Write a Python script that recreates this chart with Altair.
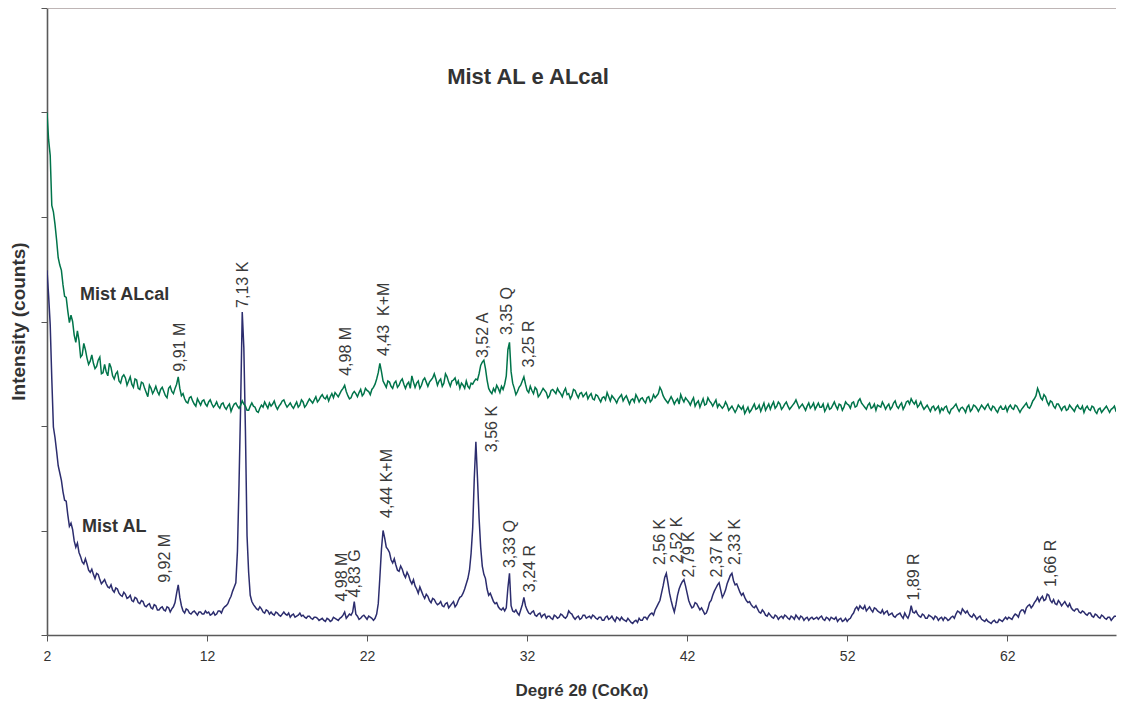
import altair as alt
import pandas as pd

# ---------------- data ----------------
# Each series is sampled every 0.1 deg 2theta: "even" samples at 2.0, 2.2, ... 69.0
# and "odd" samples at 2.1, 2.3, ... 68.9.  One row = 2 degrees.

mist_al_even = (
    [349, 297, 199, 176, 155, 137, 128, 104, 101, 84]      # 2.0 - 3.8
    + [79, 70, 73, 62, 63, 54, 58, 49, 53, 46]             # 4
    + [48, 41, 44, 38, 41, 35, 38, 32, 35, 30]             # 6
    + [32, 27, 30, 25, 28, 24, 27, 23, 26, 25]             # 8
    + [31, 48, 28, 21, 24, 20, 23, 19, 22, 20]             # 10
    + [21, 19, 22, 20, 23, 25, 28, 34, 42, 50]             # 12
    + [145, 309, 195, 60, 32, 27, 24, 25, 21, 23]          # 14
    + [22, 19, 21, 18, 22, 19, 17, 20, 18, 21]             # 16
    + [19, 16, 18, 15, 17, 14, 16, 13, 15, 14]             # 18
    + [16, 14, 17, 22, 18, 19, 32, 18, 16, 19]             # 20
    + [15, 17, 14, 20, 55, 100, 84, 79, 69, 67]            # 22
    + [61, 63, 55, 57, 49, 47, 40, 42, 35, 37]             # 24
    + [31, 34, 29, 32, 27, 31, 28, 32, 29, 36]             # 26
    + [40, 49, 62, 102, 185, 112, 66, 54, 38, 36]          # 28
    + [30, 27, 24, 23, 45, 28, 22, 21, 24, 36]             # 30
    + [24, 20, 23, 18, 21, 19, 16, 18, 15, 18]             # 32
    + [17, 19, 16, 23, 20, 15, 18, 16, 19, 17]             # 34
    + [16, 18, 15, 17, 14, 18, 16, 15, 17, 14]             # 36
    + [15, 13, 14, 11, 14, 16, 14, 17, 18, 21]             # 38
    + [24, 30, 40, 55, 50, 33, 22, 38, 48, 53]             # 40
    + [40, 29, 27, 30, 24, 23, 21, 31, 38, 45]             # 42
    + [50, 36, 43, 53, 59, 48, 45, 38, 36, 31]             # 44
    + [29, 26, 25, 21, 22, 18, 19, 16, 18, 17]             # 46
    + [16, 18, 15, 17, 19, 15, 17, 16, 14, 17]             # 48
    + [16, 15, 18, 14, 16, 17, 15, 13, 16, 14]             # 50
    + [13, 16, 21, 27, 28, 25, 23, 27, 22, 25]             # 52
    + [22, 24, 22, 19, 21, 17, 20, 18, 21, 16]             # 54
    + [28, 21, 20, 17, 19, 16, 18, 15, 17, 16]             # 56
    + [14, 16, 15, 18, 20, 22, 25, 21, 20, 17]             # 58
    + [18, 17, 15, 13, 13, 11, 14, 12, 14, 15]             # 60
    + [15, 16, 18, 19, 22, 24, 26, 29, 28, 33]             # 62
    + [32, 37, 34, 38, 31, 30, 33, 28, 32, 27]             # 64
    + [26, 23, 25, 21, 22, 19, 21, 17, 19, 16]             # 66
    + [18, 15, 17, 16, 18, 16]                             # 68.0 - 69.0
)
mist_al_odd = (
    [325, 245, 189, 162, 148, 129, 115, 107, 90, 88]       # 2.1 - 3.9
    + [75, 68, 68, 60, 58, 59, 53, 51, 49, 45]             # 4
    + [43, 45, 40, 37, 39, 36, 33, 36, 31, 33]             # 6
    + [28, 29, 26, 29, 24, 26, 24, 27, 22, 27]             # 8
    + [40, 36, 23, 25, 21, 22, 21, 22, 20, 23]             # 10
    + [22, 20, 19, 23, 21, 27, 30, 37, 46, 80]             # 12
    + [220, 275, 95, 38, 29, 25, 27, 22, 24, 20]           # 14
    + [20, 22, 19, 20, 20, 21, 19, 17, 19, 18]             # 16
    + [17, 18, 16, 17, 16, 15, 14, 16, 13, 17]             # 18
    + [15, 16, 19, 16, 20, 22, 20, 15, 18, 17]             # 20
    + [18, 16, 16, 30, 82, 93, 82, 72, 73, 62]             # 22
    + [66, 58, 60, 52, 53, 44, 46, 38, 39, 33]             # 24
    + [35, 31, 30, 28, 30, 26, 30, 27, 33, 37]             # 26
    + [44, 54, 78, 150, 150, 84, 58, 44, 40, 32]           # 28
    + [31, 25, 26, 26, 59, 23, 24, 19, 29, 28]             # 30
    + [21, 22, 19, 20, 17, 20, 18, 16, 19, 16]             # 32
    + [20, 17, 18, 21, 17, 17, 15, 19, 16, 18]             # 34
    + [19, 16, 17, 14, 17, 15, 18, 13, 16, 17]             # 36
    + [14, 16, 12, 13, 12, 14, 17, 15, 20, 19]             # 38
    + [27, 33, 47, 59, 40, 27, 29, 44, 51, 47]             # 40
    + [33, 26, 31, 27, 26, 20, 25, 33, 42, 48]             # 42
    + [43, 39, 49, 57, 52, 49, 41, 40, 33, 32]             # 44
    + [27, 28, 22, 24, 19, 21, 17, 19, 15, 18]             # 46
    + [19, 16, 18, 15, 17, 18, 14, 17, 16, 15]             # 48
    + [17, 17, 15, 17, 14, 16, 17, 15, 13, 16]             # 50
    + [15, 19, 25, 24, 26, 28, 25, 24, 26, 23]             # 52
    + [21, 20, 23, 20, 18, 19, 21, 16, 18, 20]             # 54
    + [22, 23, 18, 20, 16, 19, 17, 18, 14, 17]             # 56
    + [17, 14, 17, 16, 23, 20, 23, 23, 18, 20]             # 58
    + [15, 18, 14, 15, 12, 13, 12, 15, 13, 17]             # 60
    + [17, 15, 20, 17, 24, 21, 28, 26, 31, 36]             # 62
    + [35, 33, 39, 33, 34, 29, 31, 30, 29, 30]             # 64
    + [24, 25, 22, 23, 20, 21, 18, 20, 17, 19]             # 66
    + [16, 17, 14, 18, 17]                                 # 68.1 - 68.9
)

mist_alcal_even = (
    [500, 459, 405, 378, 354, 335, 323, 299, 300, 280]     # 2
    + [282, 268, 273, 259, 268, 255, 263, 250, 259, 248]   # 4
    + [256, 245, 252, 241, 249, 239, 247, 237, 244, 235]   # 6
    + [241, 232, 239, 231, 238, 230, 237, 229, 236, 233]   # 8
    + [236, 247, 229, 226, 222, 228, 221, 226, 220, 225]   # 10
    + [219, 225, 218, 223, 217, 222, 216, 221, 218, 222]   # 12
    + [217, 224, 219, 215, 222, 218, 213, 220, 223, 217]   # 14
    + [219, 224, 216, 221, 225, 218, 222, 217, 223, 220]   # 16
    + [223, 220, 226, 222, 228, 225, 230, 226, 224, 231]   # 18
    + [232, 228, 234, 239, 229, 227, 233, 228, 235, 231]   # 20
    + [234, 230, 237, 245, 260, 243, 237, 242, 236, 243]   # 22
    + [239, 245, 236, 242, 248, 237, 243, 239, 246, 238]   # 24
    + [244, 250, 239, 245, 241, 247, 238, 244, 240, 236]   # 26
    + [239, 243, 236, 240, 245, 250, 261, 255, 236, 231]   # 28
    + [233, 236, 238, 240, 273, 252, 236, 233, 239, 247]   # 30
    + [234, 238, 231, 235, 230, 236, 232, 229, 235, 231]   # 32
    + [233, 228, 236, 231, 229, 234, 227, 232, 230, 226]   # 34
    + [231, 225, 229, 223, 228, 232, 224, 227, 222, 228]   # 36
    + [224, 229, 221, 226, 230, 223, 227, 222, 228, 225]   # 38
    + [227, 231, 234, 226, 222, 228, 221, 226, 230, 223]   # 40
    + [225, 220, 227, 222, 218, 226, 221, 224, 219, 225]   # 42
    + [221, 217, 223, 215, 219, 213, 220, 216, 212, 218]   # 44
    + [215, 221, 217, 214, 222, 218, 216, 223, 219, 221]   # 46
    + [218, 223, 216, 220, 225, 217, 221, 215, 222, 219]   # 48
    + [216, 222, 218, 214, 221, 217, 223, 216, 220, 218]   # 50
    + [221, 217, 223, 219, 226, 220, 216, 222, 218, 215]   # 52
    + [219, 223, 216, 221, 218, 224, 217, 222, 219, 224]   # 54
    + [226, 221, 218, 223, 216, 220, 214, 219, 217, 213]   # 56
    + [215, 219, 212, 217, 221, 214, 218, 213, 220, 216]   # 58
    + [219, 214, 220, 216, 221, 215, 218, 213, 219, 216]   # 60
    + [214, 220, 216, 219, 213, 218, 222, 217, 224, 229]   # 62
    + [232, 225, 228, 220, 223, 217, 221, 215, 219, 216]   # 64
    + [218, 214, 220, 216, 213, 219, 215, 218, 212, 217]   # 66
    + [215, 219, 213, 217, 214, 216]                       # 68
)
mist_alcal_odd = (
    [474, 411, 393, 361, 349, 324, 310, 306, 287, 291]     # 2.1
    + [266, 279, 265, 262, 260, 257, 266, 251, 252, 260]   # 4
    + [248, 250, 243, 247, 246, 243, 240, 245, 236, 242]   # 6
    + [236, 228, 236, 234, 233, 235, 233, 227, 238, 231]   # 8
    + [240, 236, 231, 223, 227, 224, 219, 223, 224, 221]   # 10
    + [223, 221, 220, 219, 221, 218, 219, 214, 221, 219]   # 12
    + [220, 221, 215, 219, 219, 214, 217, 218, 220, 222]   # 14
    + [221, 219, 219, 224, 221, 220, 219, 220, 218, 225]   # 16
    + [218, 223, 224, 225, 223, 228, 227, 229, 228, 227]   # 18
    + [230, 231, 236, 233, 226, 231, 231, 232, 229, 236]   # 20
    + [233, 235, 240, 251, 252, 240, 243, 238, 241, 237]   # 22
    + [243, 240, 240, 236, 242, 241, 236, 244, 242, 242]   # 24
    + [246, 245, 243, 238, 250, 242, 243, 246, 243, 241]   # 26
    + [236, 238, 241, 243, 244, 258, 263, 244, 233, 236]   # 28
    + [239, 232, 235, 248, 280, 241, 230, 237, 243, 240]   # 30
    + [232, 234, 237, 228, 233, 234, 227, 234, 233, 236]   # 32
    + [231, 233, 230, 226, 235, 230, 231, 228, 232, 229]   # 34
    + [226, 230, 226, 227, 225, 228, 229, 225, 226, 230]   # 36
    + [227, 225, 225, 223, 227, 226, 224, 227, 223, 230]   # 38
    + [229, 237, 229, 224, 225, 225, 224, 221, 226, 227]   # 40
    + [223, 224, 219, 224, 222, 220, 227, 222, 222, 218]   # 42
    + [219, 219, 220, 217, 216, 216, 218, 219, 215, 213]   # 44
    + [218, 216, 220, 218, 215, 221, 220, 217, 223, 216]   # 46
    + [221, 219, 218, 222, 221, 219, 218, 219, 217, 222]   # 48
    + [219, 218, 221, 217, 216, 220, 219, 221, 215, 223]   # 50
    + [220, 222, 218, 224, 222, 218, 220, 217, 221, 220]   # 52
    + [218, 220, 219, 216, 222, 219, 220, 216, 223, 221]   # 54
    + [223, 224, 220, 219, 218, 217, 218, 215, 219, 217]   # 56
    + [218, 214, 216, 219, 217, 217, 216, 218, 214, 220]   # 58
    + [217, 217, 218, 219, 217, 219, 215, 217, 216, 219]   # 60
    + [218, 217, 220, 216, 216, 220, 218, 220, 226, 236]   # 62
    + [227, 230, 223, 224, 219, 221, 218, 218, 215, 220]   # 64
    + [216, 218, 217, 219, 217, 216, 219, 214, 216, 213]   # 66
    + [217, 216, 216, 219, 213]                            # 68.1 - 68.9
)

# peak labels: text, 2theta, intensity at the foot of the label
peak_text = ["9,91 M", "4,98 M", "4,43\u00a0 K+M", "3,52 A", "3,35 Q", "3,25 R",
             "9,92 M", "7,13 K", "4,98 M", "4,83 G", "4,44 K+M", "3,56 K",
             "3,33 Q", "3,24 R", "2,56 K", "2,52 K", "2,79 K", "2,37 K",
             "2,33 K", "1,89 R", "1,66 R"]
peak_theta = [10.34, 20.69, 23.06, 29.25, 30.75, 32.13,
              9.38, 14.25, 20.41, 21.25, 23.25, 29.81,
              30.94, 32.19, 40.31, 41.34, 42.13, 43.84,
              45.0, 56.19, 64.75]
peak_level = [252, 248, 267, 265, 287, 256,
              50, 313, 32, 36, 112, 175,
              64, 41, 67, 69, 55, 55,
              67, 33, 46]

series_names = ["Mist AL", "Mist ALcal"]
series_label_theta = [4.19, 4.06]
series_label_level = [103, 325]

chart_title = "Mist AL e ALcal"
title_theta = 32.06
title_level = 534

x_ticks = [2, 12, 22, 32, 42, 52, 62]
y_ticks = [0, 100, 200, 300, 400, 500, 600]

# ---------------- build tables ----------------
def build(name, even, odd):
    xs_e = [round(2.0 + 0.2 * i, 1) for i in range(len(even))]
    xs_o = [round(2.1 + 0.2 * i, 1) for i in range(len(odd))]
    rows = sorted(list(zip(xs_e, even)) + list(zip(xs_o, odd)))
    return pd.DataFrame({"theta": [r[0] for r in rows],
                         "counts": [r[1] for r in rows],
                         "series": name})

df = pd.concat([build("Mist AL", mist_al_even, mist_al_odd),
                build("Mist ALcal", mist_alcal_even, mist_alcal_odd)],
               ignore_index=True)
df_peaks = pd.DataFrame({"text": peak_text, "theta": peak_theta, "counts": peak_level})
df_series = pd.DataFrame({"text": series_names, "theta": series_label_theta,
                          "counts": series_label_level})
df_title = pd.DataFrame({"text": [chart_title], "theta": [title_theta], "counts": [title_level]})
df_top = pd.DataFrame({"counts": [600]})

FONT = "Liberation Sans"
xscale = alt.Scale(domain=[2, 68.8], nice=False, zero=False)
yscale = alt.Scale(domain=[0, 600], nice=False, zero=True)

xenc = alt.X("theta:Q", scale=xscale,
             axis=alt.Axis(values=x_ticks, title="Degré 2θ (CoKα)", grid=False,
                           tickSize=6, tickColor="#555", domainColor="#5a5a5a",
                           domainWidth=1.6, labelFontSize=14, labelColor="#333",
                           labelFont=FONT, labelPadding=8, labelFlush=False,
                           titleFont=FONT, titleFontSize=17, titleFontWeight="bold",
                           titleColor="#333", titleY=55, titleBaseline="middle"))
yenc = alt.Y("counts:Q", scale=yscale,
             axis=alt.Axis(values=y_ticks, labels=False, title="Intensity (counts)",
                           grid=False, tickSize=6, tickColor="#555",
                           domainColor="#5a5a5a", domainWidth=1.6,
                           titleFont=FONT, titleFontSize=19, titleFontWeight="bold",
                           titleColor="#333", titleX=-29, titleY=313,
                           titleAngle=270, titleBaseline="middle"))

lines = alt.Chart(df).mark_line(strokeWidth=1.5, clip=True).encode(
    x=xenc, y=yenc,
    color=alt.Color("series:N", legend=None,
                    scale=alt.Scale(domain=["Mist AL", "Mist ALcal"],
                                    range=["#2c2d6e", "#00744a"])),
    order="theta:Q",
)

top_rule = alt.Chart(df_top).mark_rule(color="#a89c9c", strokeWidth=1.5).encode(
    y=alt.Y("counts:Q", scale=yscale))

peaks = alt.Chart(df_peaks).mark_text(
    angle=270, align="left", baseline="middle", font=FONT, fontSize=16,
    color="#3a3a3a").encode(
    x=alt.X("theta:Q", scale=xscale), y=alt.Y("counts:Q", scale=yscale), text="text:N")

series_lbl = alt.Chart(df_series).mark_text(
    align="left", baseline="middle", font=FONT, fontSize=18, fontWeight="bold",
    color="#333").encode(
    x=alt.X("theta:Q", scale=xscale), y=alt.Y("counts:Q", scale=yscale), text="text:N")

title_lbl = alt.Chart(df_title).mark_text(
    align="center", baseline="middle", font=FONT, fontSize=22, fontWeight="bold",
    color="#333").encode(
    x=alt.X("theta:Q", scale=xscale), y=alt.Y("counts:Q", scale=yscale), text="text:N")

chart = alt.layer(top_rule, lines, peaks, series_lbl, title_lbl).properties(
    width=1069, height=627,
    autosize=alt.AutoSizeParams(type="none"),
    padding={"left": 39, "top": 0, "right": 1, "bottom": 66},
    background="white",
).configure_view(stroke=None)

chart.save("out.html", embed_options={"renderer": "svg", "actions": False})
